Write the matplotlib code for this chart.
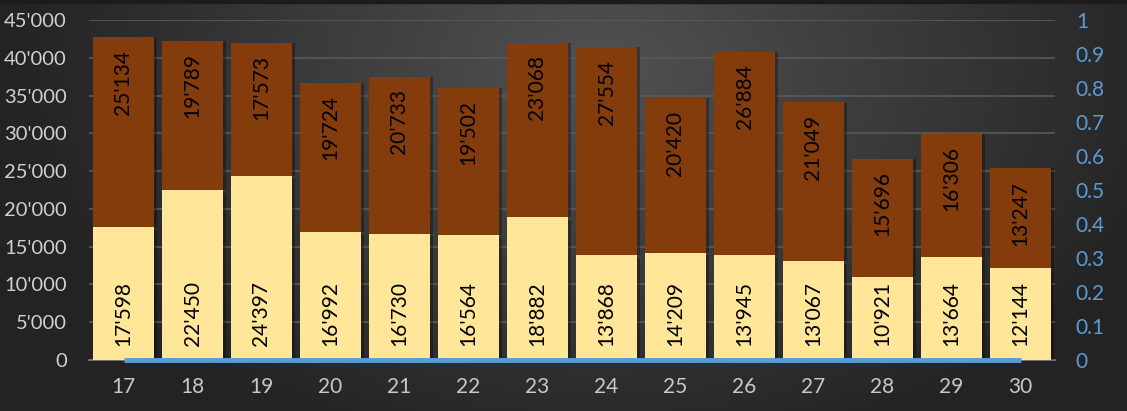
import matplotlib
matplotlib.use("Agg")
import matplotlib.pyplot as plt
import matplotlib.patheffects as pe
import numpy as np
from matplotlib.ticker import FuncFormatter, MultipleLocator

categories = ["17", "18", "19", "20", "21", "22", "23", "24", "25", "26", "27", "28", "29", "30"]
lower = [17598, 22450, 24397, 16992, 16730, 16564, 18882, 13868, 14209, 13945, 13067, 10921, 13664, 12144]
upper = [25134, 19789, 17573, 19724, 20733, 19502, 23068, 27554, 20420, 26884, 21049, 15696, 16306, 13247]
ratio = [0] * len(categories)

plt.rcParams.update({
    "font.family": ["Lato", "DejaVu Sans"],
    "font.size": 14,
})


def thousands(v, _pos=None):
    return f"{int(round(v)):,}".replace(",", "'")


fig = plt.figure(figsize=(11.27, 4.11), dpi=100)

# radial background
bg = fig.add_axes([0, 0, 1, 1], zorder=-10)
yy, xx = np.mgrid[0:411, 0:1127]
r = np.sqrt(((xx - 600) / 620.0) ** 2 + ((yy - 70) / 420.0) ** 2)
shade = np.clip(0.32 - 0.19 * r, 0.14, 0.32)
bg.imshow(np.dstack([shade] * 3), aspect="auto", extent=[0, 1, 0, 1], origin="upper")
bg.axhspan(0.993, 1.0, color="#1c1c1c")
bg.set_xlim(0, 1)
bg.set_ylim(0, 1)
bg.axis("off")

ax = fig.add_axes([89 / 1127, 51 / 411, 966 / 1127, 340 / 411])
ax.patch.set_alpha(0)
x = np.arange(len(categories))
b1 = ax.bar(x, lower, width=0.88, color="#FFE699", zorder=3)
b2 = ax.bar(x, upper, bottom=lower, width=0.88, color="#843C0C", zorder=3)
for bar in b1:
    bar.set_path_effects([pe.SimplePatchShadow(offset=(2, -2), shadow_rgbFace="black", alpha=0.3), pe.Normal()])
for bar in b2:
    bar.set_path_effects([pe.SimplePatchShadow(offset=(2, 0), shadow_rgbFace="black", alpha=0.3), pe.Normal()])

for i in range(len(categories)):
    ax.annotate(thousands(lower[i]), (x[i], 0), xytext=(0, 10), textcoords="offset points",
                rotation=90, ha="center", va="bottom", color="black", fontsize=15, zorder=5)
    ax.annotate(thousands(upper[i]), (x[i], lower[i] + upper[i]), xytext=(0, -9),
                textcoords="offset points", rotation=90, ha="center", va="top",
                color="black", fontsize=15, zorder=5)

ax.set_xlim(-0.5, len(categories) - 0.5)
ax.set_ylim(0, 45000)
ax.yaxis.set_major_locator(MultipleLocator(5000))
ax.yaxis.set_major_formatter(FuncFormatter(thousands))
ax.set_xticks(x)
ax.set_xticklabels(categories)
ax.grid(axis="y", color="#595959", linewidth=1.2, zorder=0)
ax.set_axisbelow(True)
for side in ["top", "right", "left"]:
    ax.spines[side].set_visible(False)
ax.spines["bottom"].set_color("#808080")
ax.spines["bottom"].set_linewidth(1.2)
ax.tick_params(axis="y", length=0, pad=16, colors="#D0D0D0", labelsize=14.5)
ax.tick_params(axis="x", length=0, pad=12, colors="#C8C8C8", labelsize=15)

ax2 = ax.twinx()
ax2.plot(x, ratio, color="#5B9BD5", linewidth=3.5, zorder=6, solid_capstyle="butt", clip_on=False)
ax2.set_ylim(0, 1)
ax2.yaxis.set_major_locator(MultipleLocator(0.1))
ax2.yaxis.set_major_formatter(FuncFormatter(lambda v, p: f"{v:.1f}".rstrip("0").rstrip(".") if v else "0"))
for side in ["top", "right", "left", "bottom"]:
    ax2.spines[side].set_visible(False)
ax2.tick_params(axis="y", length=0, pad=15, colors="#5B9BD5", labelsize=15)

fig.savefig("out.png", dpi=100)
